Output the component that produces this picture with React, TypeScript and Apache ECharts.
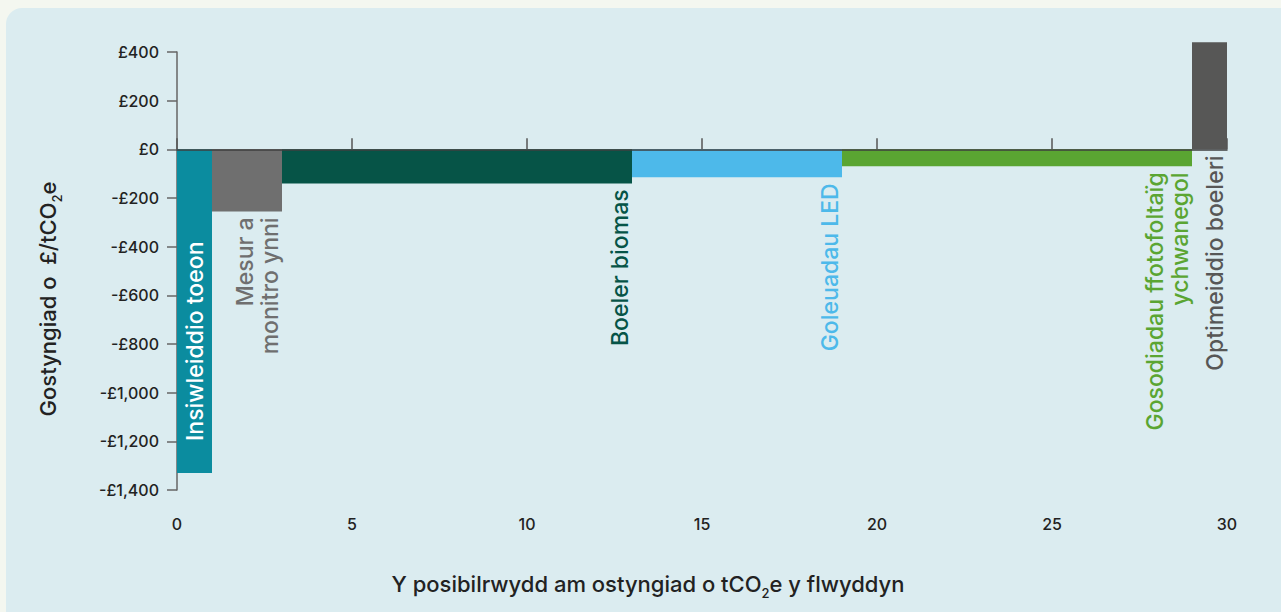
import React, { useEffect, useRef } from "react";
import * as echarts from "echarts";

// ---- data ----
const labels = [
  "Insiwleiddio toeon",
  "Mesur a\nmonitro ynni",
  "Boeler biomas",
  "Goleuadau LED",
  "Gosodiadau ffotofoltaïg\nychwanegol",
  "Optimeiddio boeleri",
];
const widths = [1, 2, 10, 6, 10, 1]; // tCO2e / year
const costs = [-1330, -255, -140, -115, -70, 440]; // £/tCO2e
const colors = ["#0b8c9f", "#6f6f6f", "#065447", "#4db9ea", "#5aa532", "#575756"];
const yTicks = [400, 200, 0, -200, -400, -600, -800, -1000, -1200, -1400];
const xTicks = [0, 5, 10, 15, 20, 25, 30];

const FONT = "Inter, 'Noto Sans', sans-serif";

function fmtGBP(v: number) {
  const s = Math.abs(v).toLocaleString("en-GB");
  return (v < 0 ? "-" : "") + "£" + s;
}

export default function App() {
  const ref = useRef<HTMLDivElement>(null);
  useEffect(() => {
    if (!ref.current) return;
    const chart = echarts.init(ref.current, null, { renderer: "svg" });
    let acc = 0;
    const data = widths.map((w, i) => {
      const d = [acc, acc + w, costs[i]];
      acc += w;
      return d;
    });
    const titleRich = {
      a: { fontFamily: FONT, fontSize: 22, fontWeight: 500, fill: "#222", lineHeight: 30 },
      s: { fontFamily: FONT, fontSize: 13, fontWeight: 500, fill: "#222", lineHeight: 14, verticalAlign: "bottom" },
    };
    const option: any = {
      animation: false,
      backgroundColor: "#f4f7f0",
      graphic: [
        {
          type: "rect",
          z: -10,
          silent: true,
          shape: { x: 6, y: 8, width: 1300, height: 620, r: 16 },
          style: { fill: "#dbecf0" },
        },
        {
          type: "text",
          x: 648,
          y: 584,
          style: {
            text: "{a|Y posibilrwydd am ostyngiad o tCO}{s|2}{a|e y flwyddyn}",
            align: "center",
            verticalAlign: "middle",
            fill: "#222",
            rich: titleRich,
          },
        },
        {
          type: "text",
          x: 48,
          y: 299,
          rotation: Math.PI / 2,
          style: {
            text: "{a|Gostyngiad o  £/tCO}{s|2}{a|e}",
            align: "center",
            verticalAlign: "middle",
            fill: "#222",
            rich: titleRich,
          },
        },
      ],
      grid: { left: 177, right: 54, top: 52, bottom: 122 },
      xAxis: [
        {
          type: "value",
          min: 0,
          max: 30,
          interval: 5,
          position: "bottom",
          axisLine: { show: true, onZero: true, lineStyle: { color: "#3f3f3f", width: 1.5 } },
          axisTick: { show: true, inside: true, length: 11, lineStyle: { color: "#555", width: 1.5 } },
          axisLabel: { show: false },
          splitLine: { show: false },
          z: 10,
        },
        {
          type: "value",
          min: 0,
          max: 30,
          interval: 5,
          position: "bottom",
          axisLine: { show: false, onZero: false },
          axisTick: { show: false },
          axisLabel: {
            show: true,
            margin: 26,
            color: "#222",
            fontFamily: FONT,
            fontSize: 16,
            fontWeight: 500,
            customValues: xTicks,
          },
          splitLine: { show: false },
        },
      ],
      yAxis: {
        type: "value",
        min: -1400,
        max: 400,
        interval: 200,
        axisLine: { show: true, lineStyle: { color: "#666", width: 1.5 } },
        axisTick: { show: true, length: 10, lineStyle: { color: "#666", width: 1.5 } },
        axisLabel: {
          margin: 18,
          color: "#222",
          fontFamily: FONT,
          fontSize: 16,
          fontWeight: 500,
          formatter: (v: number) => (yTicks.includes(v) ? fmtGBP(v) : ""),
        },
        splitLine: { show: false },
      },
      series: [
        {
          type: "custom",
          clip: false,
          xAxisIndex: 0,
          yAxisIndex: 0,
          encode: { x: [0, 1], y: 2 },
          data,
          z: 5,
          renderItem: (params: any, api: any) => {
            const idx = params.dataIndex;
            const p0 = api.coord([api.value(0), 0]);
            const p1 = api.coord([api.value(1), api.value(2)]);
            const left = p0[0];
            const right = p1[0];
            const zeroY = p0[1];
            const valY = p1[1];
            const top = Math.min(zeroY, valY);
            const h = Math.abs(valY - zeroY);
            const below = Math.max(zeroY, valY);
            const inside = h > 250;
            return {
              type: "group",
              children: [
                {
                  type: "rect",
                  shape: { x: left, y: top, width: right - left, height: h },
                  style: { fill: colors[idx] },
                },
                {
                  type: "text",
                  x: inside ? (left + right) / 2 : right,
                  y: inside ? below - 32 : below + 6,
                  rotation: Math.PI / 2,
                  style: {
                    text: labels[idx],
                    fill: inside ? "#ffffff" : colors[idx],
                    fontFamily: FONT,
                    fontSize: 23,
                    fontWeight: 500,
                    lineHeight: 25,
                    align: inside ? "left" : "right",
                    verticalAlign: inside ? "middle" : "bottom",
                  },
                },
              ],
            };
          },
        },
      ],
    };
    chart.setOption(option);
    return () => chart.dispose();
  }, []);
  return (
    <div
      ref={ref}
      style={{ position: "absolute", left: 0, top: 0, width: 1281, height: 612 }}
    />
  );
}
